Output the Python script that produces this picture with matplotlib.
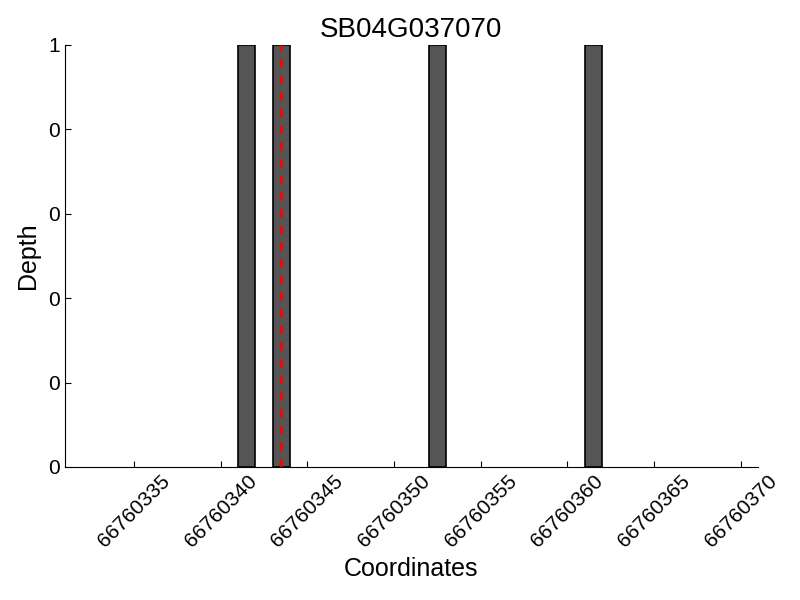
import matplotlib
matplotlib.use("Agg")
import matplotlib.pyplot as plt
from matplotlib.ticker import FormatStrFormatter

plt.rcParams['font.family'] = ['Liberation Sans', 'DejaVu Sans']

title = "SB04G037070"
positions = [66760341, 66760343, 66760352, 66760361]
depths = [1, 1, 1, 1]
marker_pos = 66760343.5
xticks = [66760335, 66760340, 66760345, 66760350, 66760355, 66760360, 66760365, 66760370]
yticks = [0, 0.2, 0.4, 0.6, 0.8, 1.0]

fig = plt.figure(figsize=(8, 6), dpi=100)
ax = fig.add_axes([0.081, 0.2217, 0.8665, 0.7033])
ax.bar(positions, depths, width=1, align='edge', color='#555555', edgecolor='black', linewidth=1.2)
ax.axvline(marker_pos, color='red', linestyle=(0, (3, 3)), linewidth=2)
ax.set_xlim(66760331, 66760371)
ax.set_ylim(0, 1)
ax.set_xticks(xticks)
ax.set_yticks(yticks)
ax.ticklabel_format(axis='x', style='plain', useOffset=False)
ax.yaxis.set_major_formatter(FormatStrFormatter('%d'))
for s in ['top', 'right']:
    ax.spines[s].set_visible(False)
ax.tick_params(direction='in', labelsize=15, length=4)
plt.setp(ax.get_xticklabels(), rotation=45)
ax.set_title(title, fontsize=20)
ax.set_xlabel("Coordinates", fontsize=18)
ax.set_ylabel("Depth", fontsize=18, labelpad=6)
fig.savefig("out.png", dpi=100)
